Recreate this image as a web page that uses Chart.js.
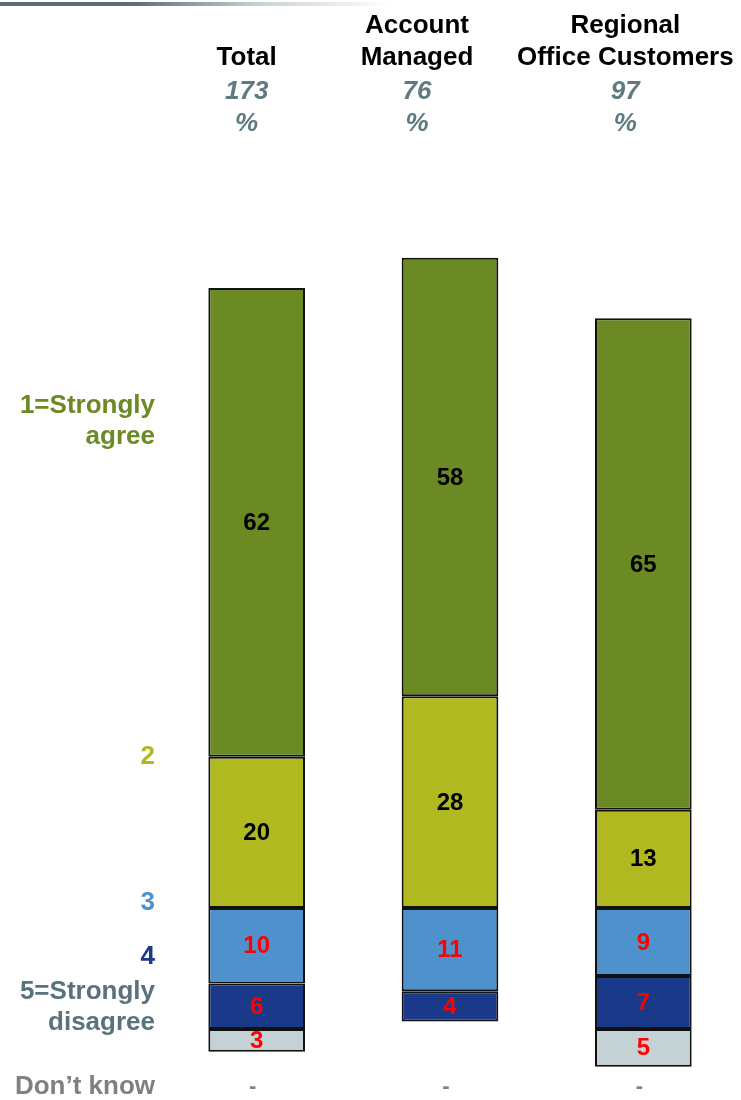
<!DOCTYPE html>
<html>
<head>
<meta charset="utf-8">
<script src="https://cdn.jsdelivr.net/npm/chart.js@4/dist/chart.umd.min.js"></script>
<style>
  html, body { margin: 0; padding: 0; background: #ffffff; }
  #wrap { position: relative; width: 741px; height: 1100px; }
  #topline { position: absolute; left: 0; top: 2px; width: 400px; height: 4px;
    background: linear-gradient(to right, #5a6e73 0%, #5a6e73 33%, #c9d2d4 65%, #ffffff 98%); }
  canvas { position: absolute; left: 0; top: 0; }
</style>
</head>
<body>
<div id="wrap">
  <div id="topline"></div>
  <canvas id="c" width="741" height="1100"></canvas>
</div>
<script>
// ---- data ----
const categories = [["Total"], ["Account", "Managed"], ["Regional", "Office Customers"]];
const bases = ["173", "76", "97"];
const stronglyAgree = [62, 58, 65];
const agree2 = [20, 28, 13];
const neutral3 = [10, 11, 9];
const disagree4 = [6, 4, 7];
const stronglyDisagree5 = [3, 0, 5];
const dontKnow = ["-", "-", "-"];

const rowLabels = [
  { lines: ["1=Strongly", "agree"], value: 64.4, color: "#6b8a23" },
  { lines: ["2"], value: 20, color: "#b0b920" },
  { lines: ["3"], value: 0.7, color: "#4f91cd" },
  { lines: ["4"], value: -6.4, color: "#1b3989" },
  { lines: ["5=Strongly", "disagree"], value: -13.2, color: "#58747a" },
  { lines: ["Don\u2019t know"], value: -23.7, color: "#808080" }
];
const dontKnowValue = -23.7;
const headerOffsets = [-10, -33, -18];

const nz = a => a.map(v => v === 0 ? null : v);
const neg = a => a.map(v => v === 0 ? null : -v);

const datasets = [
  { label: "2", data: nz(agree2), backgroundColor: "#b0b920", labelColor: "#000000" },
  { label: "1=Strongly agree", data: nz(stronglyAgree), backgroundColor: "#6b8a23", labelColor: "#000000" },
  { label: "3", data: neg(neutral3), backgroundColor: "#4f91cd", labelColor: "#ff0000" },
  { label: "4", data: neg(disagree4), backgroundColor: "#1b3989", labelColor: "#ff0000" },
  { label: "5=Strongly disagree", data: neg(stronglyDisagree5), backgroundColor: "#c4d2d5", labelColor: "#ff0000" }
].map(d => Object.assign(d, {
  borderColor: "#111111", borderWidth: 2, borderSkipped: false,
  barPercentage: 0.5, categoryPercentage: 1.0
}));

const FONT = "'Liberation Sans', Arial, sans-serif";

const overlay = {
  id: "overlay",
  afterDatasetsDraw(chart) {
    const ctx = chart.ctx;
    const xs = chart.scales.x, ys = chart.scales.y;
    ctx.save();
    // value labels inside segments
    ctx.textAlign = "center";
    ctx.textBaseline = "middle";
    ctx.font = "bold 24px " + FONT;
    chart.data.datasets.forEach((ds, di) => {
      const meta = chart.getDatasetMeta(di);
      meta.data.forEach((el, i) => {
        const v = ds.data[i];
        if (v === null || v === undefined) return;
        const p = el.getProps(["x", "y", "base"], true);
        ctx.fillStyle = ds.labelColor;
        ctx.fillText(String(Math.abs(v)), p.x, (p.y + p.base) / 2 + 1);
      });
    });
    // don't know dashes
    ctx.fillStyle = "#808080";
    ctx.font = "bold 22px " + FONT;
    dontKnow.forEach((t, i) => {
      ctx.fillText(t, xs.getPixelForValue(i) - 4, ys.getPixelForValue(dontKnowValue));
    });
    // headers
    categories.forEach((lines, i) => {
      const cx = xs.getPixelForValue(i) + headerOffsets[i];
      ctx.font = "bold 26px " + FONT;
      ctx.fillStyle = "#000000";
      const n = lines.length;
      lines.forEach((ln, k) => {
        ctx.fillText(ln, cx, 58 - (n - 1 - k) * 32);
      });
      ctx.font = "italic bold 26px " + FONT;
      ctx.fillStyle = "#5f7a80";
      ctx.fillText(bases[i], cx, 92);
      ctx.fillText("%", cx, 124);
    });
    // row labels on the left
    ctx.textAlign = "right";
    ctx.font = "bold 26px " + FONT;
    rowLabels.forEach(r => {
      const cy = ys.getPixelForValue(r.value);
      ctx.fillStyle = r.color;
      const n = r.lines.length;
      r.lines.forEach((ln, k) => {
        ctx.fillText(ln, 155, cy + (k - (n - 1) / 2) * 31);
      });
    });
    ctx.restore();
  }
};

new Chart(document.getElementById("c"), {
  type: "bar",
  data: { labels: categories.map(c => c.join(" ")), datasets },
  options: {
    responsive: false,
    animation: false,
    layout: { padding: { left: 160, right: 1, top: 152, bottom: 3 } },
    plugins: { legend: { display: false }, tooltip: { enabled: false } },
    scales: {
      x: { stacked: true, display: false },
      y: { stacked: true, display: false, min: -25, max: 100 }
    }
  },
  plugins: [overlay]
});
</script>
</body>
</html>
